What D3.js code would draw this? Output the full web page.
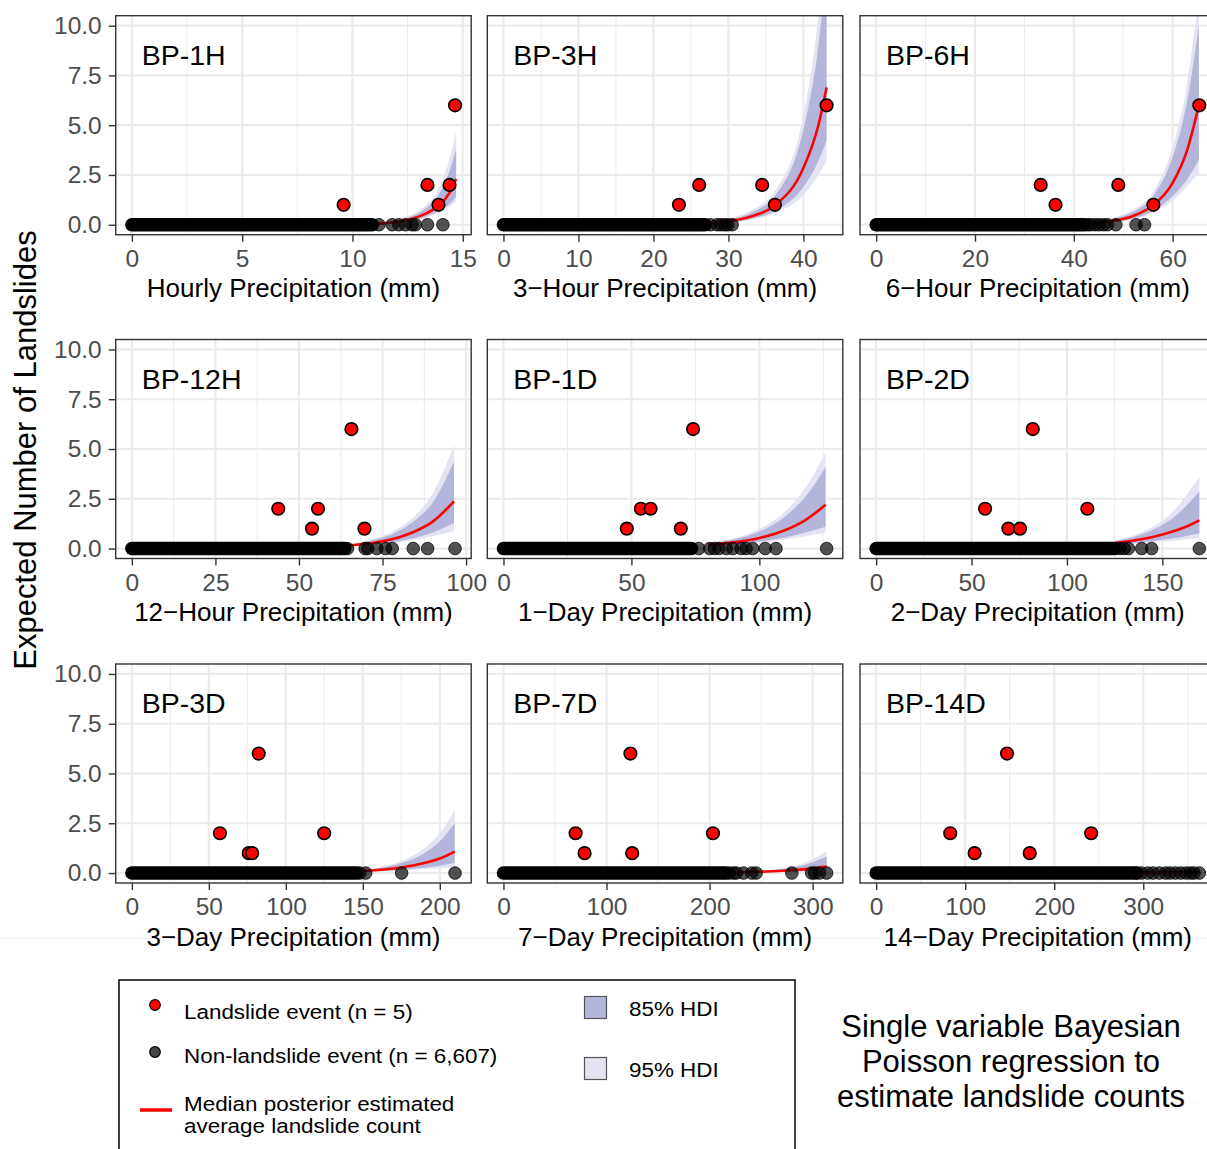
<!DOCTYPE html>
<html>
<head>
<meta charset="utf-8">
<script src="https://cdn.jsdelivr.net/npm/d3@7"></script>
<style>
  body { margin: 0; background: #fff; }
  text { font-family: "Liberation Sans", Arial, Helvetica, sans-serif; }
</style>
</head>
<body>
<svg id="chart" width="1207" height="1149"></svg>
<script>
// facet labels, axis titles, tick values
var panelNames = ["BP-1H", "BP-3H", "BP-6H", "BP-12H", "BP-1D", "BP-2D", "BP-3D", "BP-7D", "BP-14D"];
var axisTitles = [
  "Hourly Precipitation (mm)", "3\u2212Hour Precipitation (mm)", "6\u2212Hour Precipitation (mm)",
  "12\u2212Hour Precipitation (mm)", "1\u2212Day Precipitation (mm)", "2\u2212Day Precipitation (mm)",
  "3\u2212Day Precipitation (mm)", "7\u2212Day Precipitation (mm)", "14\u2212Day Precipitation (mm)"
];
var xTicks = [
  [0, 5, 10, 15], [0, 10, 20, 30, 40], [0, 20, 40, 60],
  [0, 25, 50, 75, 100], [0, 50, 100], [0, 50, 100, 150],
  [0, 50, 100, 150, 200], [0, 100, 200, 300], [0, 100, 200, 300]
];
var yTicks = [0, 2.5, 5, 7.5, 10];

// landslide events: [precipitation, landslide count]
var landslides = [
  [[9.6, 1], [13.4, 2], [13.9, 1], [14.4, 2], [14.65, 6]],
  [[23.4, 1], [26.1, 2], [34.5, 2], [36.2, 1], [43.1, 6]],
  [[33.3, 2], [36.3, 1], [49.0, 2], [56.1, 1], [65.4, 6]],
  [[43.8, 2], [53.9, 1], [55.7, 2], [65.7, 6], [69.6, 1]],
  [[48.2, 1], [53.7, 2], [57.5, 2], [69.3, 1], [74.1, 6]],
  [[57.1, 2], [69.3, 1], [75.4, 1], [82.1, 6], [110.7, 2]],
  [[57.2, 2], [75.9, 1], [78.1, 1], [82.4, 6], [124.9, 2]],
  [[70, 2], [78.7, 1], [123.2, 6], [124.9, 1], [203.3, 2]],
  [[83.2, 2], [110.6, 1], [147, 6], [172.5, 1], [241.5, 2]]
];

// non-landslide events (count 0): overlapping run from 0 up to denseEnd, then scattered values
var denseEnd = [10.9, 26.9, 42.1, 63.7, 73.5, 124.3, 146, 213.6, 292];
var nonLandslide = [
  [11.2, 11.8, 12.1, 12.4, 12.7, 12.85, 13.4, 14.1],
  [27.6, 28.5, 29.0, 29.5, 29.9, 30.5],
  [42.8, 43.4, 44.3, 45.1, 46.0, 46.8, 48.5, 52.6, 54.3],
  [64.5, 69.8, 70.6, 73.3, 75.9, 77.9, 84.2, 88.5, 96.7],
  [76.3, 80.6, 82.5, 84.2, 87.1, 89.6, 92.9, 94.8, 97.4, 102.3, 106.5, 126.3],
  [125.5, 127.8, 130, 132.2, 139.2, 144.4, 169.4],
  [148, 151.9, 175.2, 209.9],
  [216, 219, 223.2, 226, 232.9, 241, 245.2, 279.8, 299.1, 302, 306.5, 313.6],
  [293, 298, 305, 311, 318, 325, 330, 336, 342, 348, 353, 357, 363]
];

// posterior estimates
var curveX = [
  [10.5, 11.5, 12.5, 13.3, 13.9, 14.4, 14.7],
  [27, 30, 33, 36.3, 40, 42, 43.1],
  [44, 48, 52, 56.2, 60, 63, 65.3],
  [62, 70, 75, 80, 85, 90, 96.4],
  [80, 90, 100, 110, 118, 125.9],
  [125, 135, 145, 155, 162, 169.4],
  [145, 160, 175, 190, 200, 209.7],
  [230, 255, 275, 295, 313.6],
  [290, 320, 363]
];
var curveMed = [
  [0.03, 0.08, 0.25, 0.55, 0.95, 1.6, 2.3],
  [0.07, 0.17, 0.41, 1.0, 2.85, 5.0, 6.9],
  [0.09, 0.2, 0.44, 1.0, 2.1, 3.8, 6.0],
  [0.12, 0.24, 0.37, 0.57, 0.88, 1.35, 2.37],
  [0.2, 0.31, 0.53, 0.92, 1.43, 2.2],
  [0.28, 0.4, 0.58, 0.84, 1.08, 1.42],
  [0.08, 0.15, 0.28, 0.5, 0.73, 1.08],
  [0.04, 0.08, 0.13, 0.21, 0.33],
  [0.02, 0.03, 0.06]
];
var hdi85lo = [
  [0.01, 0.05, 0.17, 0.4, 0.7, 1.05, 1.4],
  [0.05, 0.12, 0.3, 0.72, 1.9, 3.2, 4.25],
  [0.06, 0.14, 0.32, 0.72, 1.45, 2.3, 3.25],
  [0.09, 0.18, 0.26, 0.38, 0.55, 0.8, 1.28],
  [0.15, 0.22, 0.35, 0.55, 0.8, 1.1],
  [0.21, 0.28, 0.38, 0.5, 0.62, 0.75],
  [0.06, 0.1, 0.17, 0.27, 0.37, 0.5],
  [0.03, 0.05, 0.07, 0.1, 0.13],
  [0.01, 0.02, 0.03]
];
var hdi85hi = [
  [0.05, 0.12, 0.35, 0.8, 1.5, 2.7, 3.8],
  [0.1, 0.25, 0.6, 1.5, 4.8, 9.0, 13],
  [0.13, 0.3, 0.65, 1.5, 3.4, 6.3, 10.0],
  [0.16, 0.33, 0.55, 0.9, 1.45, 2.3, 4.37],
  [0.27, 0.45, 0.85, 1.6, 2.6, 4.1],
  [0.38, 0.58, 0.95, 1.5, 2.1, 2.87],
  [0.11, 0.24, 0.5, 1.0, 1.6, 2.5],
  [0.05, 0.12, 0.23, 0.45, 0.83],
  [0.03, 0.05, 0.1]
];
var hdi95lo = [
  [0.01, 0.04, 0.14, 0.33, 0.6, 0.9, 1.2],
  [0.04, 0.1, 0.25, 0.6, 1.5, 2.5, 3.25],
  [0.05, 0.12, 0.27, 0.62, 1.2, 1.95, 2.6],
  [0.08, 0.15, 0.22, 0.32, 0.45, 0.62, 0.87],
  [0.13, 0.19, 0.29, 0.45, 0.62, 0.8],
  [0.18, 0.23, 0.3, 0.38, 0.45, 0.53],
  [0.05, 0.08, 0.13, 0.2, 0.24, 0.3],
  [0.02, 0.04, 0.05, 0.07, 0.08],
  [0.01, 0.015, 0.02]
];
var hdi95hi = [
  [0.06, 0.15, 0.42, 0.95, 1.8, 3.3, 4.7],
  [0.12, 0.3, 0.72, 1.75, 5.5, 10.5, 15],
  [0.15, 0.35, 0.75, 1.7, 3.9, 7.2, 11.5],
  [0.18, 0.38, 0.63, 1.05, 1.7, 2.75, 5.2],
  [0.3, 0.52, 0.98, 1.85, 3.05, 4.8],
  [0.42, 0.67, 1.1, 1.8, 2.6, 3.6],
  [0.12, 0.27, 0.6, 1.25, 2.0, 3.17],
  [0.06, 0.14, 0.28, 0.57, 1.08],
  [0.03, 0.06, 0.13]
];

// legend and caption text
var legendPoints = ["Landslide event (n = 5)", "Non-landslide event (n = 6,607)"];
var legendLine = ["Median posterior estimated", "average landslide count"];
var legendBands = ["85% HDI", "95% HDI"];
var caption = ["Single variable Bayesian", "Poisson regression to", "estimate landslide counts"];

var colours = {
  red: "#FF0000",
  band85: "#B4B5DA",
  band95: "#E3E3F1",
  grid: "#EBEBEB",
  border: "#333333",
  tickText: "#4D4D4D"
};

var svg = d3.select("#chart");

// layout of the facet grid
var colLeft = [115.7, 487.3, 860];
var rowTop = [15.7, 339.5, 664];
var pw = 355.5, ph = 219;

// faint strip line under the bottom row
svg.append("line")
    .attr("x1", 0).attr("x2", 1207).attr("y1", 938.5).attr("y2", 938.5)
    .attr("stroke", "#F0F0F0").attr("stroke-width", 1);

panelNames.forEach(function(name, i) {
  var col = i % 3, row = Math.floor(i / 3);
  var g = svg.append("g")
      .attr("transform", "translate(" + colLeft[col] + "," + rowTop[row] + ")");

  var xmax = d3.max([d3.max(landslides[i], function(d) { return d[0]; }), d3.max(nonLandslide[i]), denseEnd[i]]);
  var pad = xmax * 0.05;
  var x = d3.scaleLinear().domain([-pad, xmax + pad]).range([0, pw]);
  var y = d3.scaleLinear().domain([-0.5, 10.5]).range([ph, 0]);

  g.append("rect").attr("width", pw).attr("height", ph).attr("fill", "#fff");
  g.append("clipPath").attr("id", "clip" + i)
    .append("rect").attr("width", pw).attr("height", ph);

  // grid
  var step = xTicks[i][1] - xTicks[i][0];
  var minors = d3.range(-step / 2, xmax + pad, step).filter(function(v) { return v > -pad; });
  g.selectAll(".minor").data(minors).enter().append("line")
      .attr("x1", function(d) { return x(d); }).attr("x2", function(d) { return x(d); })
      .attr("y1", 0).attr("y2", ph)
      .attr("stroke", colours.grid).attr("stroke-width", 1);
  g.selectAll(".vmajor").data(xTicks[i].filter(function(v) { return v < xmax + pad; })).enter().append("line")
      .attr("x1", function(d) { return x(d); }).attr("x2", function(d) { return x(d); })
      .attr("y1", 0).attr("y2", ph)
      .attr("stroke", colours.grid).attr("stroke-width", 2.2);
  g.selectAll(".hmajor").data(yTicks).enter().append("line")
      .attr("x1", 0).attr("x2", pw)
      .attr("y1", function(d) { return y(d); }).attr("y2", function(d) { return y(d); })
      .attr("stroke", colours.grid).attr("stroke-width", 2.2);

  var plot = g.append("g").attr("clip-path", "url(#clip" + i + ")");

  var rows = curveX[i].map(function(v, k) {
    return { x: v, med: curveMed[i][k], lo85: hdi85lo[i][k], hi85: hdi85hi[i][k], lo95: hdi95lo[i][k], hi95: hdi95hi[i][k] };
  });

  plot.append("path").datum(rows)
      .attr("fill", colours.band95)
      .attr("d", d3.area().curve(d3.curveMonotoneX)
        .x(function(d) { return x(d.x); })
        .y0(function(d) { return y(d.lo95); })
        .y1(function(d) { return y(d.hi95); }));
  plot.append("path").datum(rows)
      .attr("fill", colours.band85)
      .attr("d", d3.area().curve(d3.curveMonotoneX)
        .x(function(d) { return x(d.x); })
        .y0(function(d) { return y(d.lo85); })
        .y1(function(d) { return y(d.hi85); }));

  // median line sits under the points
  plot.append("path").datum(rows)
      .attr("fill", "none").attr("stroke", colours.red).attr("stroke-width", 2.6)
      .attr("d", d3.line().curve(d3.curveMonotoneX)
        .x(function(d) { return x(d.x); })
        .y(function(d) { return y(d.med); }));

  // non-landslide events
  plot.append("line")
      .attr("x1", x(0)).attr("x2", x(denseEnd[i]))
      .attr("y1", y(0)).attr("y2", y(0))
      .attr("stroke", "#000").attr("stroke-width", 13.5).attr("stroke-linecap", "round");
  plot.selectAll(".nl").data(nonLandslide[i]).enter().append("circle")
      .attr("cx", function(d) { return x(d); })
      .attr("cy", y(0))
      .attr("r", 6.3)
      .attr("fill", "#000").attr("fill-opacity", 0.68)
      .attr("stroke", "#000").attr("stroke-opacity", 0.75).attr("stroke-width", 1);

  // landslide events
  plot.selectAll(".ls").data(landslides[i]).enter().append("circle")
      .attr("cx", function(d) { return x(d[0]); })
      .attr("cy", function(d) { return y(d[1]); })
      .attr("r", 6.3)
      .attr("fill", colours.red)
      .attr("stroke", "#000").attr("stroke-width", 1.6);

  g.append("rect").attr("width", pw).attr("height", ph)
      .attr("fill", "none").attr("stroke", colours.border).attr("stroke-width", 1.4);

  // axes
  var xAxis = g.append("g").attr("transform", "translate(0," + ph + ")")
      .call(d3.axisBottom(x).tickValues(xTicks[i]).tickSize(7).tickPadding(8).tickFormat(d3.format("d")));
  xAxis.select(".domain").remove();
  xAxis.selectAll(".tick line").attr("stroke", colours.border).attr("stroke-width", 1.4);
  xAxis.selectAll(".tick text").attr("font-size", "24.5px").attr("fill", colours.tickText)
      .attr("font-family", "Liberation Sans, Arial, sans-serif");

  if (col === 0) {
    var yAxis = g.append("g")
        .call(d3.axisLeft(y).tickValues(yTicks).tickSize(7).tickPadding(7).tickFormat(d3.format(".1f")));
    yAxis.select(".domain").remove();
    yAxis.selectAll(".tick line").attr("stroke", colours.border).attr("stroke-width", 1.4);
    yAxis.selectAll(".tick text").attr("font-size", "24.5px").attr("fill", colours.tickText)
        .attr("font-family", "Liberation Sans, Arial, sans-serif");
  }

  g.append("text")
      .attr("x", pw / 2).attr("y", ph + 62.5)
      .attr("text-anchor", "middle")
      .attr("font-size", "26px").attr("fill", "#000")
      .text(axisTitles[i]);

  g.append("text")
      .attr("x", 26).attr("y", 49)
      .attr("font-size", "28.5px").attr("fill", "#000")
      .text(name);
});

// shared y axis title
svg.append("text")
    .attr("transform", "translate(36,450) rotate(-90)")
    .attr("text-anchor", "middle")
    .attr("font-size", "31px").attr("fill", "#000")
    .text("Expected Number of Landslides");

// legend
var lg = svg.append("g");
lg.append("rect")
    .attr("x", 119).attr("y", 980).attr("width", 676).attr("height", 200)
    .attr("fill", "#fff").attr("stroke", "#000").attr("stroke-width", 1.5);

lg.append("circle").attr("cx", 155).attr("cy", 1005).attr("r", 5.3)
    .attr("fill", colours.red).attr("stroke", "#000").attr("stroke-width", 1.2);
lg.append("circle").attr("cx", 155).attr("cy", 1052).attr("r", 5.3)
    .attr("fill", "#444").attr("stroke", "#000").attr("stroke-width", 1.2);
lg.append("line").attr("x1", 140).attr("x2", 172).attr("y1", 1110).attr("y2", 1110)
    .attr("stroke", colours.red).attr("stroke-width", 3.5);

// legend labels are set a little narrow-tall in the source, so stretch them sideways
function legendText(sel, x, y) {
  sel.attr("transform", function(d, k) { return "translate(" + x + "," + y(k) + ") scale(1.15,1)"; })
     .attr("font-size", "19.5px").attr("fill", "#000")
     .text(function(d) { return d; });
}
lg.selectAll(".lp").data(legendPoints).enter().append("text")
    .call(legendText, 184, function(k) { return 1018.5 + k * 44; });
lg.selectAll(".ll").data(legendLine).enter().append("text")
    .call(legendText, 184, function(k) { return 1110.5 + k * 22.5; });

var bandFills = [colours.band85, colours.band95];
lg.selectAll(".lb").data(legendBands).enter().append("rect")
    .attr("x", 584.5)
    .attr("y", function(d, k) { return 996.5 + k * 61; })
    .attr("width", 22).attr("height", 22)
    .attr("fill", function(d, k) { return bandFills[k]; })
    .attr("stroke", "#555").attr("stroke-width", 1.2);
lg.selectAll(".lbt").data(legendBands).enter().append("text")
    .call(legendText, 629, function(k) { return 1015.5 + k * 61; });

// caption
svg.selectAll(".cap").data(caption).enter().append("text")
    .attr("x", 1011)
    .attr("y", function(d, k) { return 1036.7 + k * 35; })
    .attr("text-anchor", "middle")
    .attr("font-size", "31px").attr("fill", "#000")
    .text(function(d) { return d; });
</script>
</body>
</html>
